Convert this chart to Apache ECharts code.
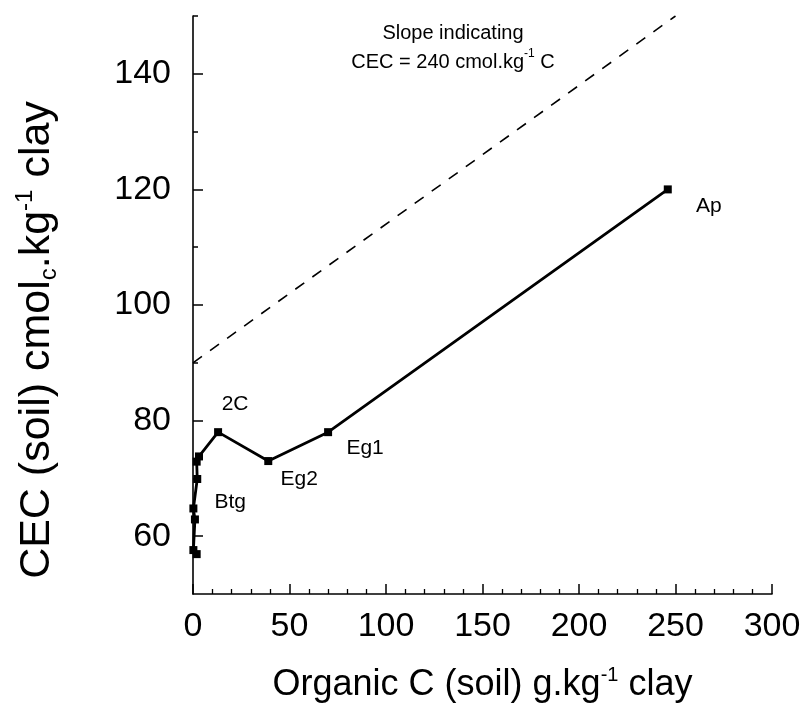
<!DOCTYPE html>
<html>
<head>
<meta charset="utf-8">
<script src="https://cdn.jsdelivr.net/npm/echarts@6/dist/echarts.min.js"></script>
<style>
html,body{margin:0;padding:0;background:#fff;}
#c{width:805px;height:719px;}
</style>
</head>
<body>
<div id="c"></div>
<script>
// ---- data ----
const horizonNames = ['Ap', 'Eg1', 'Eg2', '2C', 'Btg1', 'Btg2', 'Btg3', 'Btg4', 'Btg5', 'Btg6', 'Btg7'];
const organicC    = [246, 70, 39, 13, 3.1, 1.9, 2.2, 0.2, 1.0, 0.2, 1.9];
const cecSoil     = [120, 78, 73, 78, 73.8, 72.9, 69.9, 64.8, 62.9, 57.6, 56.9];
const pointLabels = ['Ap', 'Eg1', 'Eg2', '2C', '', '', 'Btg', '', '', '', ''];
const slopeLineX  = [0, 250];
const slopeLineY  = [90, 150];
const xTicks      = [0, 50, 100, 150, 200, 250, 300];
const yTicks      = [60, 80, 100, 120, 140];
const yMinorTicks = [70, 90, 110, 130, 150];

const FONT = '"Liberation Sans", Arial, Helvetica, sans-serif';
const labelOffsets = { 'Ap': [41, 17], 'Eg1': [37, 16], 'Eg2': [31, 18], '2C': [17, -28], 'Btg': [33, 23] };

const GRID = { left: 193, right: 33, top: 16, bottom: 125 };
const W = 805, H = 719;
const gridW = W - GRID.left - GRID.right;
const gridH = H - GRID.top - GRID.bottom;

const chart = echarts.init(document.getElementById('c'), null, { renderer: 'canvas' });

const profileData = organicC.map((x, i) => {
  const lab = pointLabels[i];
  const item = { name: horizonNames[i], value: [x, cecSoil[i]] };
  if (lab) {
    item.label = {
      show: true, formatter: lab, position: 'inside', offset: labelOffsets[lab],
      color: '#000', fontSize: 21, fontFamily: FONT, align: 'center', verticalAlign: 'middle'
    };
  }
  return item;
});

const axisLineStyle = { color: '#000', width: 1.6 };
const tickStyle = { color: '#000', width: 1.5 };

chart.setOption({
  animation: false,
  backgroundColor: '#fff',
  grid: Object.assign({ containLabel: false }, GRID),
  xAxis: [{
    type: 'value', min: 0, max: 300, interval: 50,
    axisLine: { show: true, onZero: false, lineStyle: axisLineStyle },
    axisTick: { show: false },
    axisLabel: { customValues: xTicks, color: '#000', fontSize: 34, fontFamily: FONT, margin: 16 },
    splitLine: { show: false },
    name: 'Organic C (soil) g.kg{sup|-1} clay',
    nameLocation: 'middle', nameGap: 71,
    nameTextStyle: {
      color: '#000', fontSize: 36, fontFamily: FONT,
      rich: { sup: { fontSize: 20, fontFamily: FONT, color: '#000', verticalAlign: 'top', lineHeight: 40 } }
    }
  }, {
    // tick-only axis laid on the bottom edge so its ticks point up into the plot
    type: 'value', min: 0, max: 300, interval: 50, position: 'top', offset: -gridH,
    axisLine: { show: false, onZero: false },
    axisTick: { show: true, length: 10, lineStyle: tickStyle },
    minorTick: { show: true, splitNumber: 5, length: 5, lineStyle: { color: '#000', width: 1.3 } },
    axisLabel: { show: false },
    splitLine: { show: false }
  }],
  yAxis: [{
    type: 'value', min: 50, max: 150, interval: 10,
    axisLine: { show: true, onZero: false, lineStyle: axisLineStyle },
    axisTick: { show: false },
    axisLabel: { customValues: yTicks, color: '#000', fontSize: 34, fontFamily: FONT, margin: 22 },
    splitLine: { show: false },
    name: 'CEC (soil) cmol{sub|c}.kg{sup|-1} clay',
    nameLocation: 'middle', nameGap: 132, nameRotate: 90,
    nameTextStyle: {
      color: '#000', fontSize: 43, fontFamily: FONT, padding: [0, 70, 0, 0],
      rich: {
        sup: { fontSize: 24, fontFamily: FONT, color: '#000', verticalAlign: 'top', lineHeight: 48 },
        sub: { fontSize: 24, fontFamily: FONT, color: '#000', verticalAlign: 'bottom', lineHeight: 48 }
      }
    }
  }, {
    // major ticks, laid on the left edge, pointing right into the plot
    type: 'value', min: 50, max: 150, interval: 10, position: 'right', offset: -gridW,
    axisLine: { show: false, onZero: false },
    axisTick: { show: true, length: 10, lineStyle: tickStyle, customValues: yTicks },
    axisLabel: { show: false },
    splitLine: { show: false }
  }, {
    // minor ticks
    type: 'value', min: 50, max: 150, interval: 10, position: 'right', offset: -gridW,
    axisLine: { show: false, onZero: false },
    axisTick: { show: true, length: 5, lineStyle: tickStyle, customValues: yMinorTicks },
    axisLabel: { show: false },
    splitLine: { show: false }
  }],
  graphic: [{
    type: 'text', x: 453, y: 48,
    style: {
      text: 'Slope indicating\nCEC = 240 cmol.kg{sup|-1} C',
      align: 'center', verticalAlign: 'middle',
      fill: '#000', fontSize: 20, fontFamily: FONT, lineHeight: 29,
      rich: { sup: { fontSize: 12, fontFamily: FONT, fill: '#000', verticalAlign: 'top', lineHeight: 29 } }
    }
  }],
  series: [{
    type: 'line',
    name: 'slope',
    xAxisIndex: 0, yAxisIndex: 0,
    data: slopeLineX.map((x, i) => [x, slopeLineY[i]]),
    symbol: 'none',
    lineStyle: { color: '#000', width: 1.6, type: [11, 10] },
    z: 1
  }, {
    type: 'line',
    name: 'profile',
    xAxisIndex: 0, yAxisIndex: 0,
    data: profileData,
    symbol: 'rect', symbolSize: 8,
    itemStyle: { color: '#000' },
    lineStyle: { color: '#000', width: 2.8 },
    z: 3
  }]
});
</script>
</body>
</html>
